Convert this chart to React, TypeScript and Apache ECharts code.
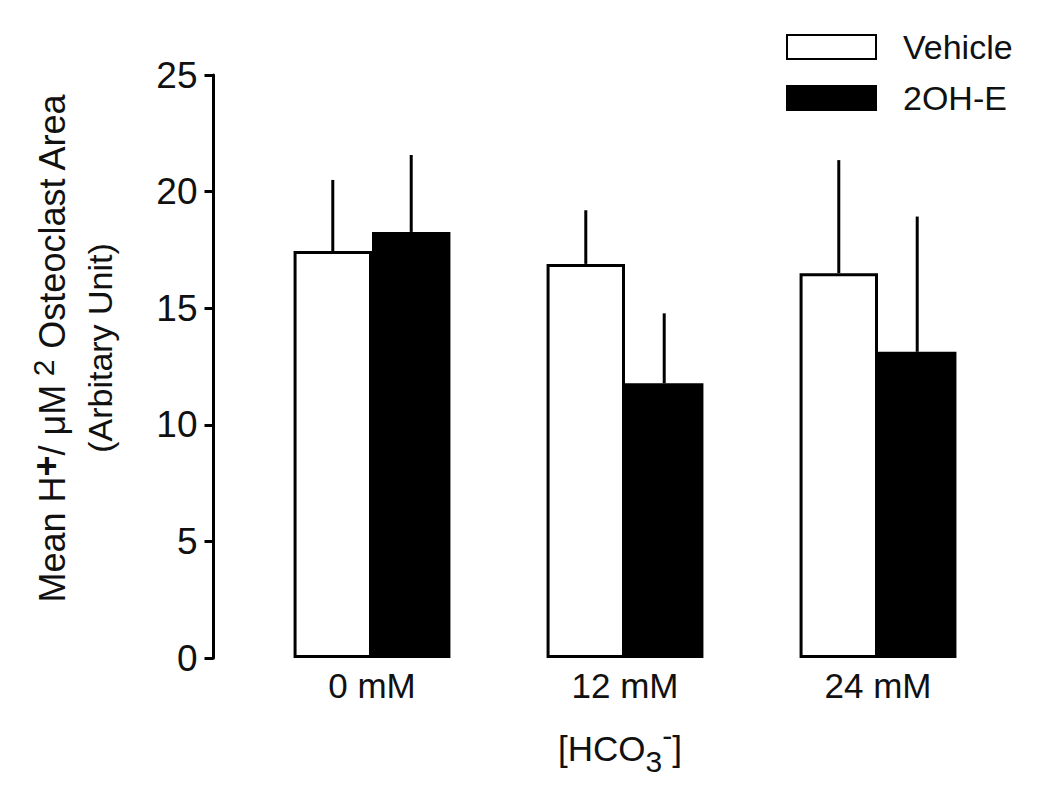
import React, { useEffect, useRef } from "react";
import * as echarts from "echarts";

const categories = ["0 mM", "12 mM", "24 mM"];
const seriesNames = ["Vehicle", "2OH-E"];
const vehicleMeans = [17.45, 16.9, 16.5];
const vehicleErrors = [3.05, 2.3, 4.85];
const treatedMeans = [18.27, 11.78, 13.13];
const treatedErrors = [3.3, 3.0, 5.8];
const yTicks = [0, 5, 10, 15, 20, 25];

const FONT = "'Liberation Sans', Arial, Helvetica, sans-serif";
const CAT_GAP = 0.38;

function errorSeries(means: number[], errs: number[], side: number) {
  return {
    type: "custom",
    z: 5,
    silent: true,
    data: means.map((m, i) => [i, m, errs[i]]),
    renderItem: (params: any, api: any) => {
      const ci = api.value(0);
      const mean = api.value(1);
      const err = api.value(2);
      const band = api.size([1, 0])[0];
      const bw = (band * (1 - CAT_GAP)) / 2;
      const off = (side * bw) / 2;
      const p0 = api.coord([ci, mean]);
      const p1 = api.coord([ci, mean + err]);
      return {
        type: "line",
        shape: { x1: p0[0] + off, y1: p0[1], x2: p0[0] + off, y2: p1[1] },
        style: { stroke: "#000", lineWidth: 3 },
      };
    },
  };
}

export default function App() {
  const ref = useRef<HTMLDivElement>(null);
  useEffect(() => {
    if (!ref.current) return;
    const chart = echarts.init(ref.current, null, { renderer: "svg" });
    chart.setOption({
      animation: false,
      backgroundColor: "#ffffff",
      textStyle: { fontFamily: FONT, color: "#111" },
      grid: { left: 245.5, right: 45.5, top: 75, bottom: 139, containLabel: false },
      legend: {
        data: seriesNames,
        orient: "vertical",
        left: 781,
        top: 25,
        icon: "rect",
        itemWidth: 89,
        itemHeight: 24,
        itemGap: 17,
        textStyle: { fontSize: 34, fontFamily: FONT, color: "#111", padding: [0, 0, 0, 22] },
      },
      xAxis: {
        type: "category",
        data: categories,
        axisLine: { show: false },
        axisTick: { show: false },
        axisLabel: { fontSize: 35, color: "#111", fontFamily: FONT, margin: 10 },
        splitLine: { show: false },
      },
      yAxis: {
        type: "value",
        min: 0,
        max: 25,
        interval: 5,
        offset: 32,
        axisLine: { show: true, lineStyle: { color: "#000", width: 3 } },
        axisTick: { show: true, length: 9, lineStyle: { color: "#000", width: 3 } },
        axisLabel: {
          fontSize: 37,
          color: "#111",
          fontFamily: FONT,
          margin: 16,
          formatter: (v: number) => (yTicks.includes(v) ? String(v) : ""),
        },
        splitLine: { show: false },
      },
      series: [
        {
          name: seriesNames[0],
          type: "bar",
          data: vehicleMeans,
          barGap: "0%",
          barCategoryGap: CAT_GAP * 100 + "%",
          itemStyle: { color: "#fff", borderColor: "#000", borderWidth: 3 },
        },
        {
          name: seriesNames[1],
          type: "bar",
          data: treatedMeans,
          barGap: "0%",
          barCategoryGap: CAT_GAP * 100 + "%",
          itemStyle: { color: "#000", borderColor: "#000", borderWidth: 3 },
        },
        errorSeries(vehicleMeans, vehicleErrors, -1),
        errorSeries(treatedMeans, treatedErrors, 1),
      ],
      graphic: [
        {
          type: "text",
          x: 52,
          y: 348,
          rotation: Math.PI / 2,
          style: {
            text: "{a|Mean H}{p|+}{a|/ μM}{s| 2}{a| Osteoclast Area}",
            align: "center",
            verticalAlign: "middle",
            fill: "#111",
            rich: {
              a: { fontSize: 36, fontFamily: FONT, fill: "#111", lineHeight: 48 },
              p: { fontSize: 36, fontWeight: "bold", fontFamily: FONT, fill: "#111", verticalAlign: "top", lineHeight: 48 },
              s: { fontSize: 30, fontFamily: FONT, fill: "#111", verticalAlign: "top", lineHeight: 48 },
            },
          },
        },
        {
          type: "text",
          x: 100,
          y: 348,
          rotation: Math.PI / 2,
          style: {
            text: "(Arbitary Unit)",
            align: "center",
            verticalAlign: "middle",
            fontSize: 34,
            fontFamily: FONT,
            fill: "#111",
          },
        },
        {
          type: "text",
          x: 620,
          y: 748,
          style: {
            text: "{a|[HCO}{b|3}{c|-}{a|]}",
            align: "center",
            verticalAlign: "middle",
            fill: "#111",
            rich: {
              a: { fontSize: 35, fontFamily: FONT, fill: "#111", lineHeight: 56 },
              b: { fontSize: 30, fontFamily: FONT, fill: "#111", verticalAlign: "bottom", lineHeight: 56 },
              c: { fontSize: 30, fontFamily: FONT, fill: "#111", verticalAlign: "top", lineHeight: 56 },
            },
          },
        },
      ],
    });
    return () => chart.dispose();
  }, []);
  return (
    <div
      ref={ref}
      style={{ position: "absolute", left: 0, top: 0, width: 1050, height: 797 }}
    />
  );
}
